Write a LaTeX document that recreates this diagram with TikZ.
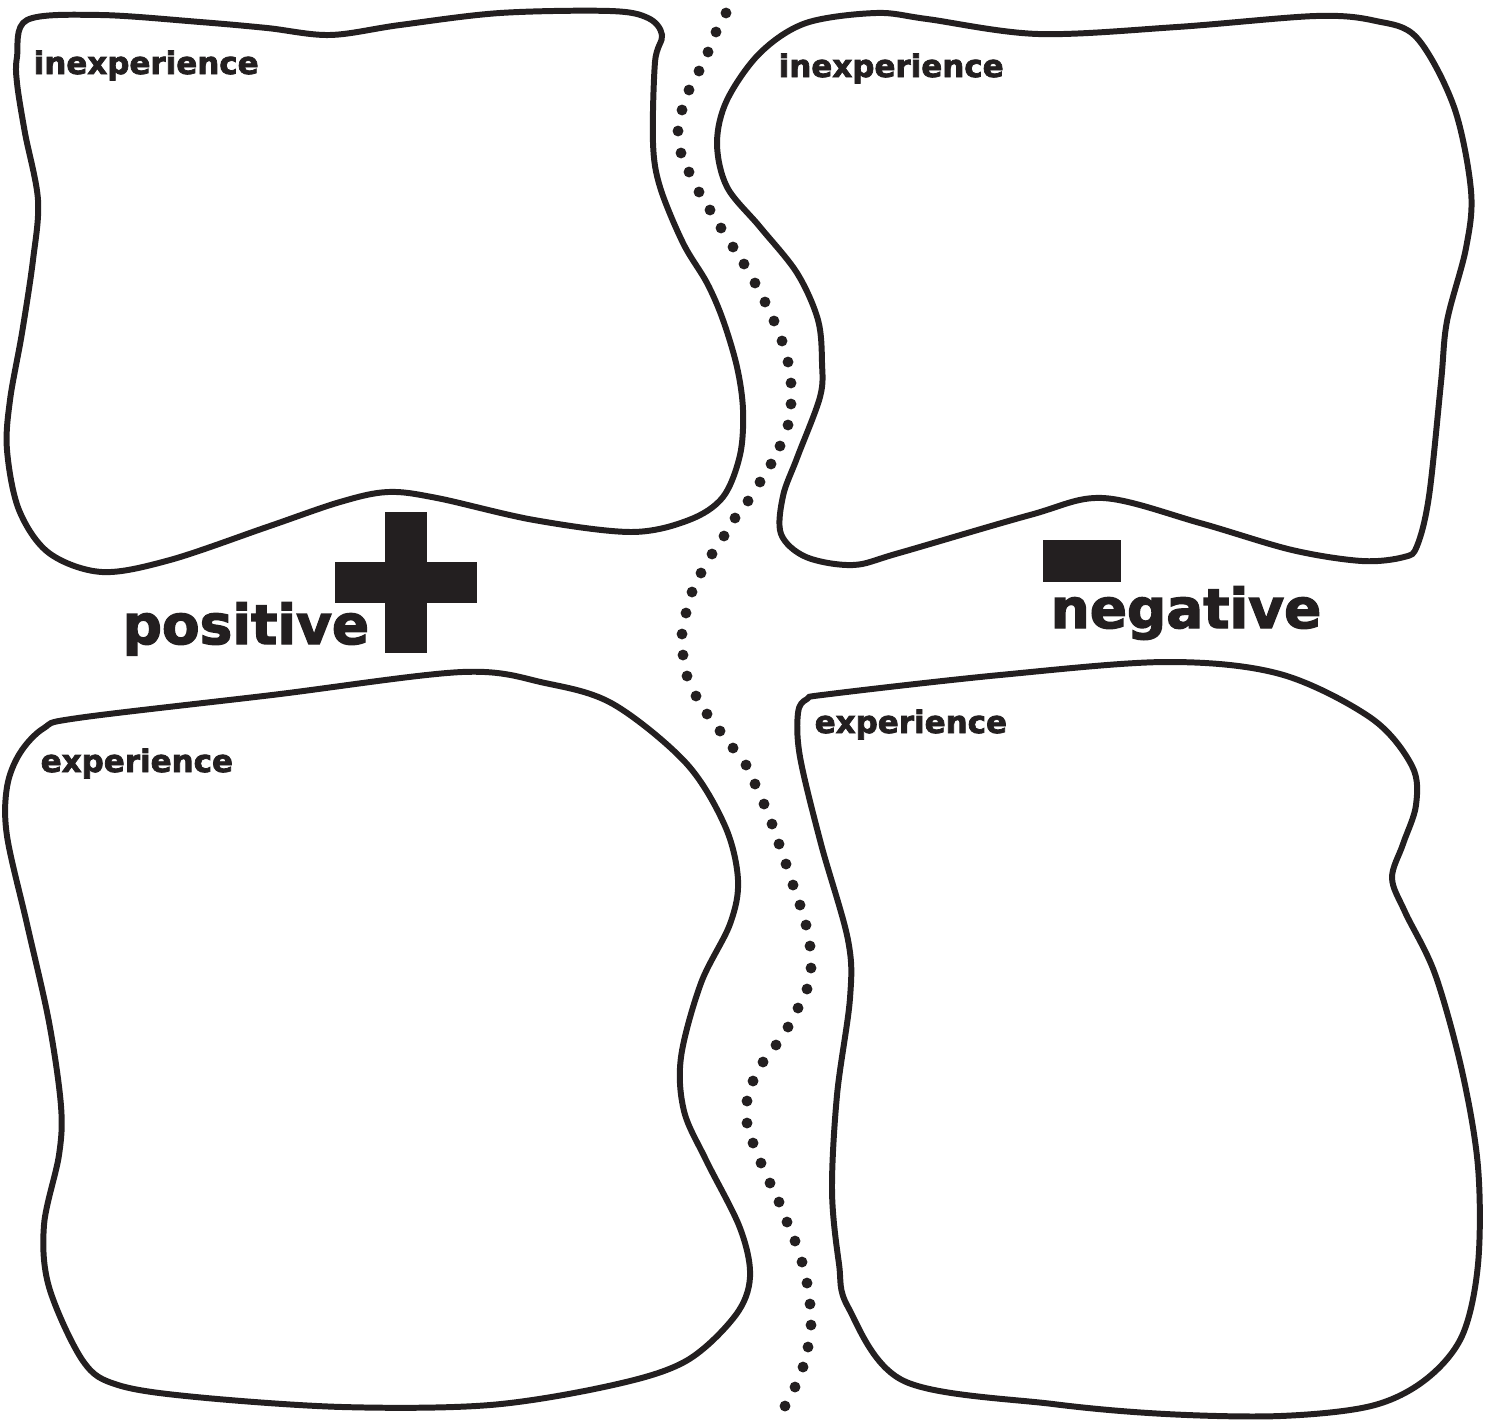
\documentclass[tikz,border=0pt]{standalone}
\usepackage{fontspec}
\setmainfont{DejaVu Sans}
\newfontfamily\heavy[FakeBold=2.4]{DejaVu Sans Bold}
\definecolor{ink}{RGB}{35,31,32}

\begin{document}
\begin{tikzpicture}[x=0.01cm, y=-0.01cm,
	blob/.style={draw=ink, line width=1.7pt, smooth cycle, tension=0.55},
	dot/.style={fill=ink},
	lbl/.style={anchor=base west, inner sep=0pt, text=ink, font=\heavy\fontsize{8.8}{10}\selectfont},
	bigword/.style={anchor=base west, inner sep=0pt, text=ink, font=\heavy\fontsize{15.6}{18}\selectfont}]
	
	\useasboundingbox (0,0) rectangle (1486,1421);
	
	% --- LINEA DIVISORIA (puntos) ---
	\foreach \p in {(726,13),(716,32),(708,52),(699,71),(689,90),(682,110),(678,131),(681,153),(689,172),(699,192),(710,210),(721,228),(733,247),(744,264),(755,283),(765,302),(774,321),(782,341),(788,362),(791,383),(791,404),(788,425),(780,446),(771,464),(760,482),(748,501),
		(735,518),(724,536),(712,554),(701,573),(692,592),(686,613),(682,634),(683,655),(687,676),(696,696),(707,714),(720,731),(733,748),(746,765),(755,784),(764,804),(772,824),(779,844),(786,864),(793,885),(800,905),(806,925),(810,946),(811,968),(807,989),
		(798,1008),(788,1027),(776,1045),(763,1062),(753,1081),(747,1101),(747,1123),(753,1143),(761,1163),(770,1183),(779,1202),(787,1222),(795,1241),(802,1262),(807,1283),(810,1304),(811,1325),(808,1347),(803,1367),(795,1387),(785,1406)}
		\fill[dot] \p circle[radius=1.55pt];
	
	% --- ARRIBA IZQUIERDA ---
	\draw[blob] plot coordinates {(27,20) (100,15) (200,22) (267,28) (330,35) (400,25) (500,13) (610,11) (648,18) (662,35) (655,62) (653,143) (660,187) (683,243) (707,283) (723,320) (737,367) (743,410) (740,455) (723,497) (689,520) (631,532) (534,520) (437,498) (388,492) (340,502) (267,527) (170,560) (102,572) (49,553) (19,510) (7,450) (10,400) (22,333) (33,260) (38,200) (25,133) (17,83) (17,57)};
	\node[lbl] (inexpA) at (33,74) {inexperience};
	
	% --- ARRIBA DERECHA ---
	\draw[blob] plot coordinates {(806,23) (876,13) (927,19) (1038,34) (1177,27) (1316,16) (1376,21) (1417,38) (1454,107) (1471,191) (1466,248) (1447,321) (1441,382) (1429,496) (1417,546) (1404,557) (1362,561) (1292,550) (1200,523) (1103,498) (1030,515) (899,553) (853,565) (806,557) (781,534) (783,496) (797,458) (820,397) (822,363) (818,320) (797,273) (760,227) (727,187) (717,143) (727,100) (760,53)};
	\node[lbl] (inexpB) at (778,77) {inexperience};
	
	% --- ABAJO IZQUIERDA ---
	\draw[blob] plot coordinates {(78,718) (272,695) (462,672) (545,683) (613,704) (686,763) (725,826) (738,880) (730,924) (701,983) (681,1057) (684,1111) (706,1160) (740,1228) (750,1277) (735,1316) (686,1361) (613,1385) (490,1405) (343,1407) (196,1397) (118,1385) (83,1361) (49,1287) (44,1225) (59,1155) (61,1106) (49,1022) (27,924) (7,836) (7,787) (20,753) (44,728)};
	\node[lbl] (expA) at (40,772) {experience};
	
	% --- ABAJO DERECHA ---
	\draw[blob] plot coordinates {(830,694) (1000,675) (1166,662) (1280,674) (1371,718) (1412,766) (1416,805) (1403,844) (1392,878) (1405,912) (1435,974) (1462,1071) (1478,1167) (1478,1264) (1462,1336) (1425,1380) (1371,1406) (1280,1416) (1166,1414) (1053,1404) (904,1381) (848,1307) (839,1264) (832,1191) (837,1095) (850,998) (848,940) (821,844) (800,757) (798,713) (807,699)};
	\node[lbl] (expB) at (814,733) {experience};
	
	% --- SIGNOS ---
	\fill[ink] (385,512) rectangle (427,653);
	\fill[ink] (335,562) rectangle (477,603);
	\node[bigword] (pos) at (122,644) {positive};
	
	\fill[ink] (1043,540) rectangle (1121,582);
	\node[bigword] (neg) at (1050,628) {negative};
	
\end{tikzpicture}
\end{document}
